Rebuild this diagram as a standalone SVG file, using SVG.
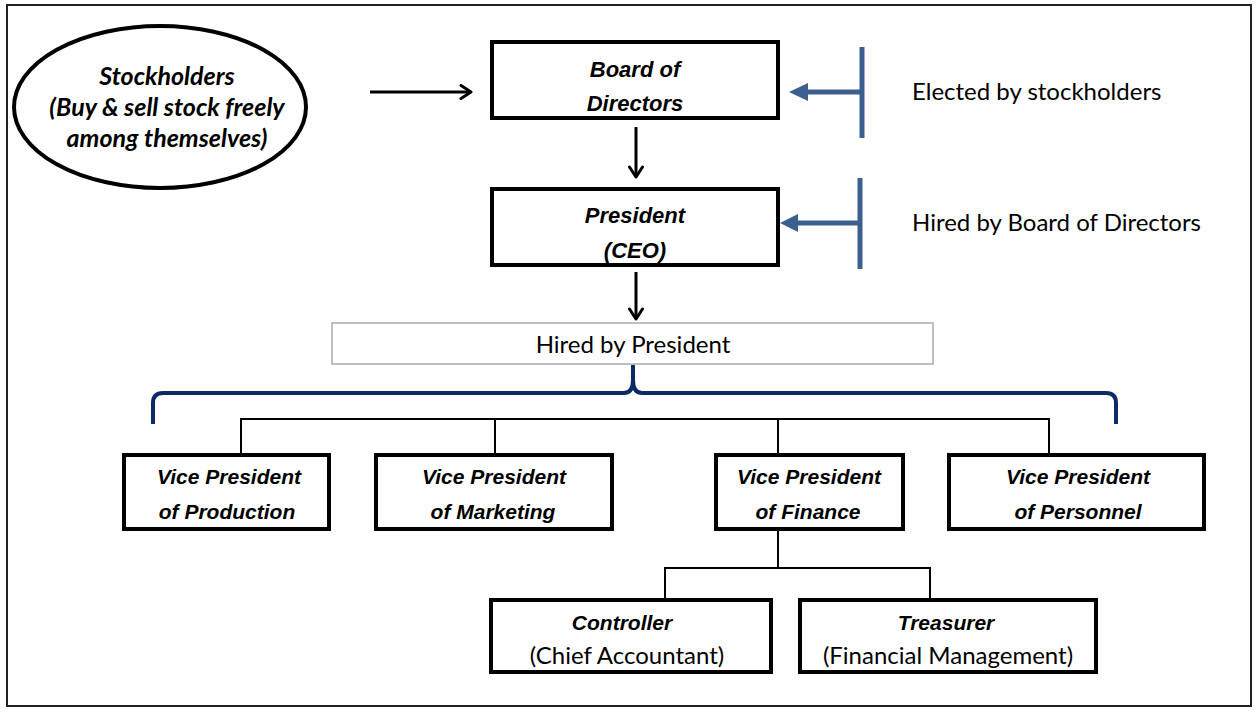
<svg xmlns="http://www.w3.org/2000/svg" width="1257" height="712" viewBox="0 0 1257 712">
<defs>
<style>
.box{fill:#fff;stroke:#000;stroke-width:4}
.t{font-family:"Liberation Sans",Arial,sans-serif;font-weight:bold;font-style:italic;font-size:21px;fill:#000;text-anchor:middle}
.tb{font-size:22px}
.c{font-family:Lato,"Open Sans",sans-serif;font-size:24px;fill:#000}
.ci{font-family:Lato,"Open Sans",sans-serif;font-weight:bold;font-style:italic;font-size:25px;fill:#000;text-anchor:middle}
.arr{fill:none;stroke:#000;stroke-width:3}
.blue{fill:none;stroke:#3B5F8E;stroke-width:5}
.conn{fill:none;stroke:#000;stroke-width:2}
</style>
<marker id="chev" viewBox="0 0 14 16" refX="12" refY="8" markerWidth="14" markerHeight="16" markerUnits="userSpaceOnUse" orient="auto">
<path d="M2,1.5 L12,8 L2,14.5" fill="none" stroke="#000" stroke-width="3" stroke-linecap="round" stroke-linejoin="round"/>
</marker>
</defs>
<rect x="0" y="0" width="1257" height="712" fill="#fff"/>
<rect x="7" y="5" width="1244" height="701" fill="none" stroke="#222" stroke-width="2"/>

<g id="connectors">
<line class="arr" x1="370" y1="92" x2="471" y2="92" marker-end="url(#chev)"/>
<line class="arr" x1="636" y1="127" x2="636" y2="177" marker-end="url(#chev)"/>
<line class="arr" x1="636" y1="272" x2="636" y2="319" marker-end="url(#chev)"/>
<line class="blue" x1="862" y1="47" x2="862" y2="138"/>
<path d="M862,92 H808" class="blue"/>
<path d="M789,92 L808,83 L808,101 Z" fill="#3B5F8E"/>
<line class="blue" x1="860" y1="178" x2="860" y2="269"/>
<path d="M860,223 H798" class="blue"/>
<path d="M780,223 L798,214 L798,232 Z" fill="#3B5F8E"/>
<path d="M153,424 V403 Q153,393 163,393 H624 Q633,393 633,380 V365 M633,380 Q633,393 642,393 H1106 Q1116,393 1116,403 V424" fill="none" stroke="#0B2A66" stroke-width="4"/>
<path class="conn" d="M241,455 V419 H1049 V455 M495,419 V455 M778,419 V455"/>
<path class="conn" d="M778,529 V568 M665,600 V568 H930 V600"/>
</g>

<g id="stockholders">
<ellipse cx="160" cy="107" rx="146" ry="81" fill="#fff" stroke="#000" stroke-width="4"/>
<text class="ci" x="167" y="85">Stockholders</text>
<text class="ci" x="167" y="116">(Buy &amp; sell stock freely</text>
<text class="ci" x="167" y="147">among themselves)</text>
</g>

<g id="board">
<rect class="box" x="492" y="42" width="286" height="76"/>
<text class="t tb" x="635" y="77">Board of</text>
<text class="t tb" x="635" y="111">Directors</text>
</g>

<g id="president">
<rect class="box" x="492" y="189" width="286" height="76"/>
<text class="t tb" x="635" y="223">President</text>
<text class="t tb" x="635" y="258">(CEO)</text>
</g>

<g id="elected-label">
<text class="c" x="912" y="100">Elected by stockholders</text>
</g>
<g id="hired-board-label">
<text class="c" x="912" y="231">Hired by Board of Directors</text>
</g>

<g id="hired-president">
<rect x="332" y="323" width="601" height="41" fill="#fff" stroke="#BFBFBF" stroke-width="2"/>
<text class="c" x="633" y="353" text-anchor="middle">Hired by President</text>
</g>

<g id="vp-production">
<rect class="box" x="124" y="455" width="205" height="74"/>
<text class="t" x="229" y="484">Vice President</text>
<text class="t" x="227" y="519">of Production</text>
</g>
<g id="vp-marketing">
<rect class="box" x="376" y="455" width="236" height="74"/>
<text class="t" x="494" y="484">Vice President</text>
<text class="t" x="493" y="519">of Marketing</text>
</g>
<g id="vp-finance">
<rect class="box" x="716" y="455" width="187" height="74"/>
<text class="t" x="809" y="484">Vice President</text>
<text class="t" x="808" y="519">of Finance</text>
</g>
<g id="vp-personnel">
<rect class="box" x="949" y="455" width="255" height="74"/>
<text class="t" x="1078" y="484">Vice President</text>
<text class="t" x="1078" y="519">of Personnel</text>
</g>

<g id="controller">
<rect class="box" x="491" y="600" width="280" height="72"/>
<text class="t" x="622" y="630">Controller</text>
<text class="c" x="627" y="664" text-anchor="middle">(Chief Accountant)</text>
</g>
<g id="treasurer">
<rect class="box" x="800" y="600" width="296" height="72"/>
<text class="t" x="946" y="630">Treasurer</text>
<text class="c" x="948" y="664" text-anchor="middle">(Financial Management)</text>
</g>
</svg>
